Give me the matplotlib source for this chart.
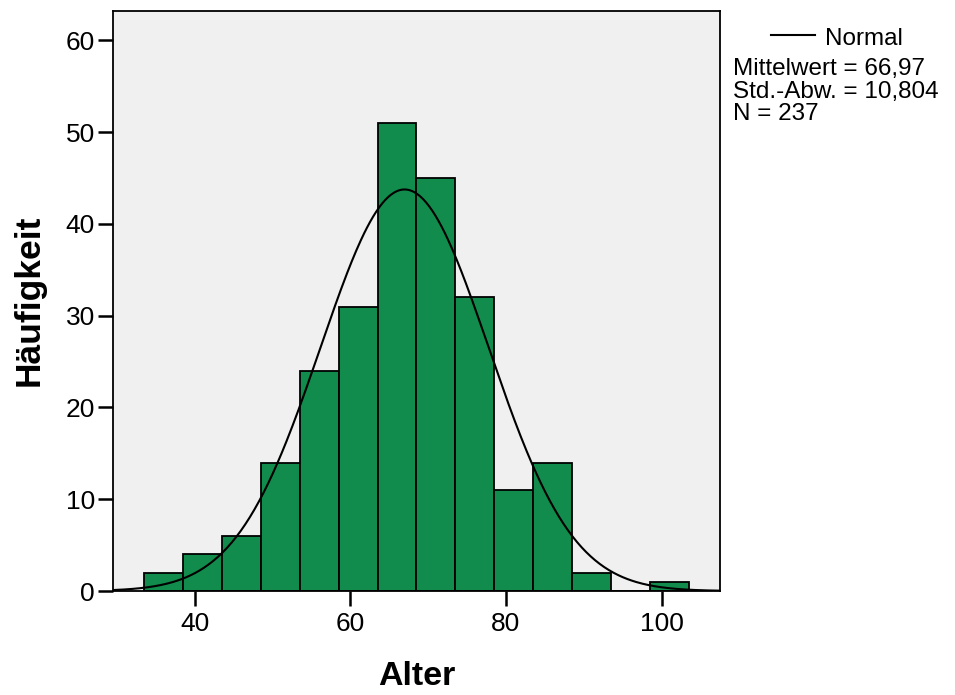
import numpy as np
import matplotlib
matplotlib.use('Agg')
import matplotlib.pyplot as plt
from matplotlib.lines import Line2D

plt.rcParams['font.family'] = ['Liberation Sans', 'DejaVu Sans']

# histogram data (age classes of width 5)
bin_edges = [33.5, 38.5, 43.5, 48.5, 53.5, 58.5, 63.5, 68.5, 73.5, 78.5, 83.5, 88.5, 93.5, 98.5, 103.5]
counts = [2, 4, 6, 14, 24, 31, 51, 45, 32, 11, 14, 2, 0, 1]
mean = 66.97
sd = 10.804
n = 237
bin_width = 5
stats_lines = ['Mittelwert = 66,97', 'Std.-Abw. = 10,804', 'N = 237']

fig = plt.figure(figsize=(9.55, 6.95), dpi=100)
ax = fig.add_axes([0.1183, 0.1496, 0.6356, 0.8345])
ax.set_facecolor('#f0f0f0')

lefts = bin_edges[:-1]
ax.bar(lefts, counts, width=bin_width, align='edge', color='#118c4c',
       edgecolor='black', linewidth=1.3, zorder=2)

xlim = (29.5, 107.5)
xs = np.linspace(xlim[0], xlim[1], 400)
ys = n * bin_width * np.exp(-0.5 * ((xs - mean) / sd) ** 2) / (sd * np.sqrt(2 * np.pi))
ax.plot(xs, ys, color='black', linewidth=1.5, zorder=3)

ax.set_xlim(*xlim)
ax.set_ylim(0, 63.2)
ax.set_xticks([40, 60, 80, 100])
ax.set_yticks([0, 10, 20, 30, 40, 50, 60])
ax.tick_params(direction='out', length=11, width=1.8, labelsize=19)
ax.tick_params(axis='y', pad=2)
ax.tick_params(axis='x', pad=4)
for s in ax.spines.values():
    s.set_linewidth(1.3)

fig.text(0.4361, 0.014, 'Alter', fontsize=24.5, fontweight='bold', ha='center', va='baseline')
fig.text(0.030, 0.568, 'Häufigkeit', fontsize=25.5, fontweight='bold', rotation=90,
         ha='center', va='center')

# legend block on the right
fig.add_artist(Line2D([0.8073, 0.8534], [0.9496, 0.9496], color='black', linewidth=1.5,
                      transform=fig.transFigure))
fig.text(0.8639, 0.935, 'Normal', fontsize=17.5, ha='left', va='baseline')
for i, line in enumerate(stats_lines):
    fig.text(0.7675, 0.892 - i * 0.0325, line, fontsize=17.5, ha='left', va='baseline')

plt.savefig('out.png', dpi=100)
